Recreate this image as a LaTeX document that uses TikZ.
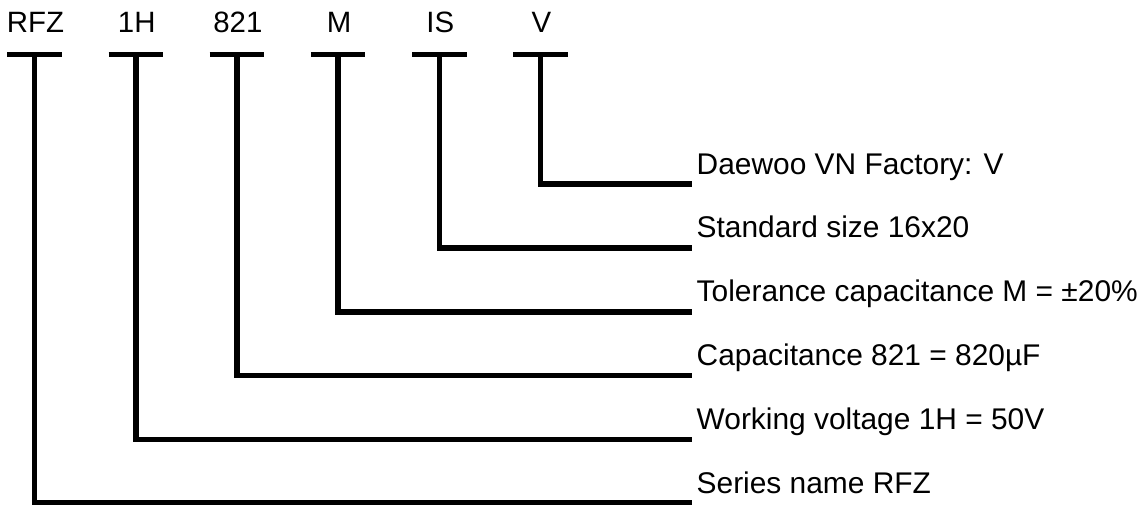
\documentclass[tikz,border=0pt]{standalone}
\usepackage{fontspec}
\setmainfont{Liberation Sans}
\begin{document}
\begin{tikzpicture}[x=1pt,y=-1pt,
  wire/.style={line width=5.6pt,line join=miter,line cap=butt},
  toplabel/.style={inner sep=0pt,anchor=base,font=\fontsize{29.4}{35}\selectfont},
  rightlabel/.style={inner sep=0pt,anchor=base west,font=\fontsize{29.9}{36}\selectfont}]
\useasboundingbox (0,0) rectangle (1139,504);
% top labels and T-bars
\foreach \n/\x/\t in {a/34.5/RFZ,b/135.7/1H,c/236.9/821,d/338.1/M,e/439.3/IS,f/540.5/V}{
  \node[toplabel] (lab\n) at (\x+1,32.3) {\t};
  \coordinate (t\n) at (\x,54.5);
  \draw[wire] ([xshift=-27.2pt]t\n) -- ([xshift=27.2pt]t\n);
}
% right labels
\foreach \n/\y/\t in {f/184/{Daewoo VN Factory: V},
                      e/247.85/{Standard size 16x20},
                      d/311.7/{Tolerance capacitance M = ±20\%},
                      c/375.55/{Capacitance 821 = 820µF},
                      b/439.4/{Working voltage 1H = 50V},
                      a/503.25/{Series name RFZ}}{
  \coordinate (e\n) at (691.7,\y);
  \node[rightlabel] (desc\n) at (696.5,\y-10) {\t};
  \draw[wire] (t\n) |- (e\n);
}
\end{tikzpicture}
\end{document}
